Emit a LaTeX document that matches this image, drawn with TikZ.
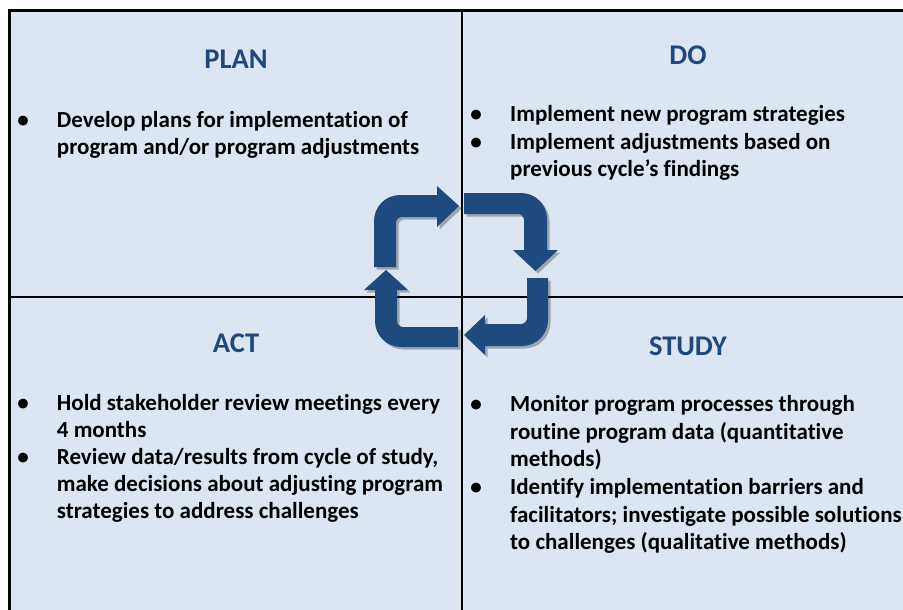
\documentclass[tikz,border=0pt]{standalone}
\usepackage{fontspec}
\setmainfont{Carlito}[Ligatures=NoCommon]
\definecolor{bgblue}{HTML}{DCE6F2}
\definecolor{titleblue}{HTML}{1F497D}
\definecolor{arrowblue}{HTML}{1F4A7E}
\newcommand\myBody{\fontsize{23}{27.5}\selectfont\bfseries}
\newcommand\myTitle{\fontsize{28.5}{32}\selectfont\bfseries}
\tikzset{
  txt/.style={anchor=base west, inner sep=0pt, font=\myBody, text=black},
  bul/.style={anchor=base, inner sep=0pt, font=\myBody, text=black},
  ttl/.style={anchor=base, inner sep=0pt, font=\myTitle, text=titleblue},
  grid/.style={draw=black, line width=1.4pt},
}
\begin{document}
\begin{tikzpicture}[x=1pt,y=-1pt]
\useasboundingbox (0,0) rectangle (903,610);
\clip (0,0) rectangle (903,610);
\fill[white] (0,0) rectangle (903,610);
\fill[bgblue] (10,11) rectangle (910,620);
\draw[grid] (462,11) -- (462,620);
\draw[grid] (10,297) -- (910,297);
\draw[black, line width=3pt] (9.7,620) -- (9.7,10.8) -- (910,10.8);

% titles
\node[ttl] (tplan) at (236,68.5) {PLAN};
\node[ttl] (tdo) at (688,65) {DO};
\node[ttl] (tact) at (236,352) {ACT};
\node[ttl] (tstudy) at (688,355.5) {STUDY};

% PLAN
\node[bul] (bp1) at (23,127.7) {•};
\node[txt] (p1) at (56.7,127.7) {Develop plans for implementation of};
\node[txt] (p2) at (56.7,154.5) {program and/or program adjustments};

% DO
\node[bul] (bd1) at (476,121.7) {•};
\node[txt] (d1) at (510,121.7) {Implement new program strategies};
\node[bul] (bd2) at (476,149.3) {•};
\node[txt] (d2) at (510,149.3) {Implement adjustments based on};
\node[txt] (d3) at (510,176.8) {previous cycle’s findings};

% ACT
\node[bul] (ba1) at (23,410) {•};
\node[txt] (a1) at (56.7,410) {Hold stakeholder review meetings every};
\node[txt] (a2) at (56.7,437) {4 months};
\node[bul] (ba2) at (23,464.2) {•};
\node[txt] (a3) at (56.7,464.2) {Review data/results from cycle of study,};
\node[txt] (a4) at (56.7,491.5) {make decisions about adjusting program};
\node[txt] (a5) at (56.7,518.5) {strategies to address challenges};

% STUDY
\node[bul] (bs1) at (476,411.7) {•};
\node[txt] (s1) at (510,411.7) {Monitor program processes through};
\node[txt] (s2) at (510,439.3) {routine program data (quantitative};
\node[txt] (s3) at (510,466.8) {methods)};
\node[bul] (bs2) at (476,494.5) {•};
\node[txt] (s4) at (510,494.5) {Identify implementation barriers and};
\node[txt] (s5) at (510,522) {facilitators; investigate possible solutions};
\node[txt] (s6) at (510,549.5) {to challenges (qualitative methods)};

% cycle arrows
\foreach \dx/\col/\op in {2.5/black/0.28, 0/arrowblue/1}{
\begin{scope}[shift={(\dx,\dx)}]
\fill[\col, fill opacity=\op] (396,267) -- (374,267) -- (374,221) .. controls (374,206.6) and (385.6,195) .. (400,195) -- (437,195) -- (437,186) -- (459,206) -- (437,227) -- (437,217) -- (402,217) .. controls (398.7,217) and (396,219.7) .. (396,223) -- cycle;
\fill[\col, fill opacity=\op] (464,193) -- (521,193) .. controls (535.4,193) and (547,204.6) .. (547,219) -- (547,250) -- (558,250) -- (535.5,271) -- (513,250) -- (524,250) -- (524,220) .. controls (524,216.7) and (521.3,214) .. (518,214) -- (464,214) -- cycle;
\fill[\col, fill opacity=\op] (527,278) -- (548,278) -- (548,320) .. controls (548,334.4) and (536.4,346) .. (522,346) -- (485,346) -- (485,355) -- (464,335) -- (485,315) -- (485,324) -- (521,324) .. controls (524.3,324) and (527,321.3) .. (527,318) -- cycle;
\fill[\col, fill opacity=\op] (458,327) -- (458,347) -- (401,347) .. controls (386.6,347) and (375,335.4) .. (375,321) -- (375,290) -- (364,290) -- (386,270) -- (408,290) -- (397,290) -- (397,321) .. controls (397,324.3) and (399.7,327) .. (403,327) -- cycle;
\end{scope}
}
\end{tikzpicture}
\end{document}
